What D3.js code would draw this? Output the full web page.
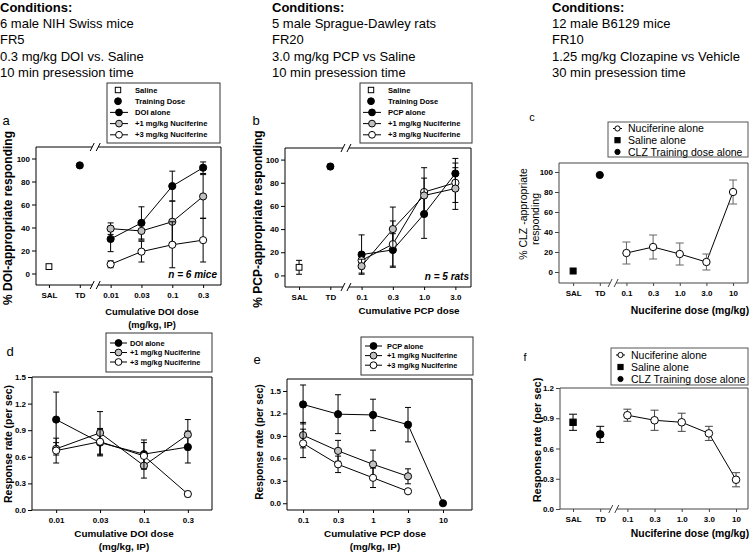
<!DOCTYPE html>
<html><head><meta charset="utf-8">
<script src="https://cdn.jsdelivr.net/npm/d3@7"></script>
<style>body{margin:0;background:#fff} svg{display:block} text{font-family:"Liberation Sans",Arial,Helvetica,sans-serif}</style>
</head><body>
<svg id="chart" width="750" height="552"></svg>
<script>
// ---------------- DATA ----------------
const condA = ["6 male NIH Swiss mice","FR5","0.3 mg/kg DOI vs. Saline","10 min presession time"];
const condB = ["5 male Sprague-Dawley rats","FR20","3.0 mg/kg PCP vs Saline","10 min presession time"];
const condC = ["12 male B6129 mice","FR10","1.25 mg/kg Clozapine vs Vehicle","30 min presession time"];

// Panel a
const aCats = ["SAL","TD","0.01","0.03","0.1","0.3"];
const aSaline = 6, aSalineErr = 0;
const aTD = 94, aTDErr = 0;
const aDOI = [30,44,76,92], aDOIErr = [11,14,13,5];
const aNuc1 = [39,37,45,67], aNuc1Err = [5,8,18,19];
const aNuc3 = [8,19,25,29], aNuc3Err = [3,9,20,19];
const aYTicks = [0,20,40,60,80,100];

// Panel b
const bCats = ["SAL","TD","0.1","0.3","1.0","3.0"];
const bSaline = 7, bSalineErr = 6;
const bTD = 94, bTDErr = 2;
const bPCP = [18,22,53,88], bPCPErr = [17,14,21,13];
const bNuc1 = [8,40,69,75], bNuc1Err = [6,19,15,18];
const bNuc3 = [13,27,72,80], bNuc3Err = [6,20,21,17];
const bYTicks = [0,20,40,60,80,100];

// Panel c
const cCats = ["SAL","TD","0.1","0.3","1.0","3.0","10"];
const cSaline = 1, cTD = 97;
const cNuc = [19,25,18,10,80], cNucErr = [11,12,11,8,12];
const cYTicks = [0,20,40,60,80,100];

// Panel d
const dCats = ["0.01","0.03","0.1","0.3"];
const dDOI = [1.02,0.76,0.63,0.71], dDOIErr = [0.31,0.15,0.16,0.18];
const dNuc1 = [0.69,0.87,0.50,0.85], dNuc1Err = [0.07,0.24,0.14,0.17];
const dNuc3 = [0.67,0.77,0.61,0.18], dNuc3Err = [0.14,0.15,0.15,0.03];
const dYTicks = [0,0.3,0.6,0.9,1.2,1.5];

// Panel e
const eCats = ["0.1","0.3","1","3","10"];
const ePCP = [1.32,1.19,1.18,1.05,0.0], ePCPErr = [0.26,0.26,0.21,0.23,0];
const eNuc1 = [0.91,0.70,0.52,0.36], eNuc1Err = [0.17,0.14,0.19,0.10];
const eNuc3 = [0.80,0.52,0.34,0.16], eNuc3Err = [0.19,0.11,0.13,0.02];
const eYTicks = [0,0.3,0.6,0.9,1.2,1.5];

// Panel f
const fCats = ["SAL","TD","0.1","0.3","1.0","3.0","10"];
const fSaline = 0.86, fSalineErr = 0.08;
const fTD = 0.74, fTDErr = 0.08;
const fNuc = [0.93,0.88,0.86,0.75,0.29], fNucErr = [0.06,0.10,0.09,0.07,0.07];
const fYTicks = [0,0.3,0.6,0.9,1.2];

// ---------------- DRAWING ----------------
const svg = d3.select("#chart");
const BLACK = "#000", GRAY = "#c0c0c0", WHITE = "#fff";

function conditions(x, lines) {
  svg.append("text").attr("x", x).attr("y", 12).attr("font-size", 13).attr("font-weight", "bold").text("Conditions:");
  lines.forEach((t, i) => svg.append("text").attr("x", x).attr("y", 27.5 + i * 16.5).attr("font-size", 13).text(t));
}
conditions(0, condA);
conditions(272, condB);
conditions(552, condC);

function line(g, x1, y1, x2, y2, col, w) {
  g.append("line").attr("x1", x1).attr("y1", y1).attr("x2", x2).attr("y2", y2)
    .attr("stroke", col || BLACK).attr("stroke-width", w || 1);
}

function makePanel(o) {
  const g = svg.append("g");
  const x = d3.scaleLinear().domain(o.xd).range(o.xr);
  const y = d3.scaleLinear().domain(o.yd).range(o.yr);
  const L = o.xr[0], R = o.xr[1], T = o.yr[1], B = o.yr[0];
  const fc = o.frameColor || BLACK;
  const ya = g.append("g").attr("transform", `translate(${L},0)`)
    .call(d3.axisLeft(y).tickValues(o.yt).tickSize(o.ytSize || 4).tickPadding(2).tickFormat(o.yf || d3.format("d")));
  const xa = g.append("g").attr("transform", `translate(0,${B})`)
    .call(d3.axisBottom(x).tickValues(d3.range(o.cats.length)).tickFormat(i => o.cats[i]).tickSize(o.xtSize || 3).tickPadding(o.xPad || 4));
  [ya, xa].forEach(a => {
    a.select(".domain").remove();
    a.selectAll("line").attr("stroke", fc);
    a.selectAll("text").attr("font-size", o.tickFs || 8).attr("font-weight", "bold").attr("fill", BLACK)
      .style("font-family", '"Liberation Sans",Arial,sans-serif');
  });
  line(g, L, T, L, B, fc); line(g, R, T, R, B, fc);
  const gap = 3;
  function hline(yy, broken) {
    if (broken && o.brk != null) {
      const bx = x(o.brk);
      line(g, L, yy, bx - gap, yy, fc); line(g, bx + gap, yy, R, yy, fc);
      line(g, bx - gap - 2, yy + 4, bx - gap + 2, yy - 4, fc);
      line(g, bx + gap - 2, yy + 4, bx + gap + 2, yy - 4, fc);
    } else line(g, L, yy, R, yy, fc);
  }
  hline(T, o.brkTop);
  hline(B, true);
  o.x = x; o.y = y; o.g = g;
  return o;
}

function marker(g, cx, cy, type, fill, r) {
  if (type === "circ") {
    g.append("circle").attr("cx", cx).attr("cy", cy).attr("r", r).attr("fill", fill).attr("stroke", BLACK).attr("stroke-width", 1);
  } else {
    g.append("rect").attr("x", cx - r).attr("y", cy - r).attr("width", 2 * r).attr("height", 2 * r)
      .attr("fill", fill).attr("stroke", BLACK).attr("stroke-width", 1);
  }
}

function series(p, start, vals, errs, fill, opts) {
  opts = opts || {};
  const g = p.g, x = p.x, y = p.y;
  const r = opts.r || 3.6, cap = opts.cap || 3, ecol = opts.ecol || BLACK;
  if (vals.length > 1) {
    const ln = d3.line().x((d, i) => x(start + i)).y(d => y(d));
    g.append("path").attr("d", ln(vals)).attr("fill", "none").attr("stroke", BLACK).attr("stroke-width", 1);
  }
  vals.forEach((v, i) => {
    const e = errs ? errs[i] : 0;
    if (e > 0) {
      const cx = x(start + i);
      line(g, cx, y(v - e), cx, y(v + e), ecol);
      line(g, cx - cap, y(v - e), cx + cap, y(v - e), ecol);
      line(g, cx - cap, y(v + e), cx + cap, y(v + e), ecol);
    }
  });
  vals.forEach((v, i) => marker(g, x(start + i), y(v), opts.type || "circ", fill, r));
}

function legend(o) {
  const g = svg.append("g");
  g.append("rect").attr("x", o.x).attr("y", o.y).attr("width", o.w).attr("height", o.h)
    .attr("fill", "#fff").attr("stroke", o.stroke || "#333").attr("stroke-width", 1);
  o.rows.forEach((rw, i) => {
    const cy = o.y0 + i * o.dy;
    if (rw.sym === "lineCirc") {
      line(g, o.lx1, cy, o.lx2, cy, BLACK);
      marker(g, (o.lx1 + o.lx2) / 2, cy, "circ", rw.fill, o.r);
    } else if (rw.sym === "sqOpen") {
      marker(g, o.sx, cy, "sq", WHITE, o.sq);
    } else if (rw.sym === "sqFill") {
      marker(g, o.sx, cy, "sq", BLACK, o.sq);
    } else {
      marker(g, o.sx, cy, "circ", BLACK, o.r);
    }
    g.append("text").attr("x", o.tx).attr("y", cy).attr("dy", "0.35em")
      .attr("font-size", o.fs).attr("font-weight", o.fw || "normal").text(rw.label);
  });
}

function rotText(x, yc, txt, fs, fw) {
  svg.append("text").attr("transform", `translate(${x},${yc}) rotate(-90)`).attr("text-anchor", "middle")
    .attr("font-size", fs).attr("font-weight", fw || "bold").text(txt);
}
function ctext(x, y, txt, fs, fw, anchor, style) {
  svg.append("text").attr("x", x).attr("y", y).attr("text-anchor", anchor || "middle")
    .attr("font-size", fs).attr("font-weight", fw || "bold").attr("font-style", style || "normal").text(txt);
}

// ---- Panel a ----
const pa = makePanel({cats: aCats, xd: [-0.42, 5.58], xr: [36, 221], yd: [-10, 110], yr: [285, 147], yt: aYTicks, brk: 1.5, brkTop: true});
marker(pa.g, pa.x(0), pa.y(aSaline), "sq", WHITE, 2.9);
marker(pa.g, pa.x(1), pa.y(aTD), "circ", BLACK, 3.6);
series(pa, 2, aDOI, aDOIErr, BLACK);
series(pa, 2, aNuc1, aNuc1Err, GRAY);
series(pa, 2, aNuc3, aNuc3Err, WHITE);
ctext(217, 278, "n = 6 mice", 10, "bold", "end", "italic");
rotText(12, 218, "% DOI-appropriate responding", 12, "bold");
ctext(152, 315, "Cumulative DOI dose", 9.3);
ctext(152, 328, "(mg/kg, IP)", 9.3);
ctext(6, 125, "a", 13, "normal", "middle");
legend({x: 107, y: 83, w: 113, h: 60, y0: 90, dy: 11.2, lx1: 110, lx2: 128, sx: 118, tx: 135, r: 3.4, sq: 2.7, fs: 7.6, fw: "bold",
  rows: [{sym: "sqOpen", label: "Saline"}, {sym: "circ", label: "Training Dose"}, {sym: "lineCirc", fill: BLACK, label: "DOI  alone"},
         {sym: "lineCirc", fill: GRAY, label: "+1 mg/kg Nuciferine"}, {sym: "lineCirc", fill: WHITE, label: "+3 mg/kg Nuciferine"}]});

// ---- Panel b ----
const pb = makePanel({cats: bCats, xd: [-0.45, 5.5], xr: [285, 471], yd: [-10, 110], yr: [287, 148], yt: bYTicks, brk: 1.5, brkTop: true});
series(pb, 0, [bSaline], [bSalineErr], WHITE, {type: "sq", r: 2.9});
series(pb, 1, [bTD], [bTDErr], BLACK);
series(pb, 2, bPCP, bPCPErr, BLACK);
series(pb, 2, bNuc3, bNuc3Err, WHITE);
series(pb, 2, bNuc1, bNuc1Err, GRAY);
ctext(469, 280, "n = 5 rats", 10, "bold", "end", "italic");
rotText(262, 219, "% PCP-appropriate responding", 12, "bold");
ctext(409, 314, "Cumulative PCP dose", 9.8);
ctext(256, 125, "b", 13, "normal", "middle");
legend({x: 360, y: 83, w: 112, h: 60, y0: 90, dy: 11.2, lx1: 363, lx2: 381, sx: 371, tx: 388, r: 3.4, sq: 2.7, fs: 7.6, fw: "bold",
  rows: [{sym: "sqOpen", label: "Saline"}, {sym: "circ", label: "Training Dose"}, {sym: "lineCirc", fill: BLACK, label: "PCP  alone"},
         {sym: "lineCirc", fill: GRAY, label: "+1 mg/kg Nuciferine"}, {sym: "lineCirc", fill: WHITE, label: "+3 mg/kg Nuciferine"}]});

// ---- Panel c ----
const pc = makePanel({cats: cCats, xd: [-0.53, 6.56], xr: [559, 748], yd: [-11, 109], yr: [283, 163], yt: cYTicks, brk: 1.5, brkTop: false, frameColor: "#444", ytSize: 4});
marker(pc.g, pc.x(0), pc.y(cSaline), "sq", BLACK, 3);
marker(pc.g, pc.x(1), pc.y(cTD), "circ", BLACK, 3.6);
series(pc, 2, cNuc, cNucErr, WHITE, {ecol: "#666", cap: 4, r: 3.7});
rotText(527, 214, "% CLZ -appropriate", 10.5, "normal");
rotText(539, 219, "responding", 10.5, "normal");
ctext(690, 314, "Nuciferine dose (mg/kg)", 10.4);
ctext(532, 121, "c", 11, "normal", "middle");
legend({x: 608, y: 122, w: 140, h: 35, y0: 128.5, dy: 11.7, lx1: 613, lx2: 622, sx: 617.5, tx: 628, r: 2.6, sq: 2.6, fs: 10.5, fw: "normal", stroke: "#555",
  rows: [{sym: "lineCirc", fill: WHITE, label: "Nuciferine alone"}, {sym: "sqFill", label: "Saline alone"}, {sym: "circ", label: "CLZ Training dose alone"}]});

// ---- Panel d ----
const pd = makePanel({cats: dCats, xd: [-0.55, 3.55], xr: [32, 212], yd: [0, 1.5], yr: [510, 377], yt: dYTicks, yf: d3.format(".1f")});
series(pd, 0, dDOI, dDOIErr, BLACK);
series(pd, 0, dNuc1, dNuc1Err, GRAY);
series(pd, 0, dNuc3, dNuc3Err, WHITE);
rotText(12, 444, "Response rate (per sec)", 10.4, "bold");
ctext(124, 537, "Cumulative DOI dose", 9.9);
ctext(124, 550, "(mg/kg, IP)", 9.9);
ctext(10, 356, "d", 13, "normal", "middle");
legend({x: 106, y: 333, w: 106, h: 39, y0: 343, dy: 9.5, lx1: 110, lx2: 127, sx: 118, tx: 130, r: 3.4, sq: 2.7, fs: 7.4, fw: "bold",
  rows: [{sym: "lineCirc", fill: BLACK, label: "DOI alone"}, {sym: "lineCirc", fill: GRAY, label: "+1 mg/kg Nuciferine"}, {sym: "lineCirc", fill: WHITE, label: "+3 mg/kg Nuciferine"}]});

// ---- Panel e ----
const pe = makePanel({cats: eCats, xd: [-0.46, 4.83], xr: [287, 472], yd: [-0.09, 1.66], yr: [510, 379], yt: eYTicks, yf: d3.format(".1f")});
series(pe, 0, ePCP, ePCPErr, BLACK);
series(pe, 0, eNuc1, eNuc1Err, GRAY);
series(pe, 0, eNuc3, eNuc3Err, WHITE);
rotText(263, 442, "Response rate (per sec)", 10.2, "bold");
ctext(375, 537, "Cumulative PCP dose", 9.9);
ctext(375, 550, "(mg/kg, IP)", 9.9);
ctext(257, 364, "e", 13, "normal", "middle");
legend({x: 361, y: 337, w: 112, h: 38, y0: 346, dy: 9.6, lx1: 365, lx2: 382, sx: 373, tx: 387, r: 3.4, sq: 2.7, fs: 7.4, fw: "bold",
  rows: [{sym: "lineCirc", fill: BLACK, label: "PCP alone"}, {sym: "lineCirc", fill: GRAY, label: "+1 mg/kg Nuciferine"}, {sym: "lineCirc", fill: WHITE, label: "+3 mg/kg Nuciferine"}]});

// ---- Panel f ----
const pf = makePanel({cats: fCats, xd: [-0.48, 6.44], xr: [560, 748], yd: [0, 1.2], yr: [509, 388], yt: fYTicks, yf: d3.format(".1f"), brk: 1.5, brkTop: false, frameColor: "#444"});
series(pf, 0, [fSaline], [fSalineErr], BLACK, {type: "sq", r: 3.2, cap: 4});
series(pf, 1, [fTD], [fTDErr], BLACK, {cap: 4, r: 3.8});
series(pf, 2, fNuc, fNucErr, WHITE, {cap: 4, r: 3.8, ecol: "#444"});
rotText(541, 440, "Response rate (per sec)", 11, "bold");
ctext(690, 537, "Nuciferine dose (mg/kg)", 10.4);
ctext(525, 361, "f", 11, "normal", "middle");
legend({x: 611, y: 348, w: 137, h: 37, y0: 355, dy: 12, lx1: 616, lx2: 625, sx: 620.5, tx: 631, r: 2.6, sq: 2.6, fs: 10.5, fw: "normal", stroke: "#555",
  rows: [{sym: "lineCirc", fill: WHITE, label: "Nuciferine alone"}, {sym: "sqFill", label: "Saline alone"}, {sym: "circ", label: "CLZ Training dose alone"}]});
</script></body></html>
